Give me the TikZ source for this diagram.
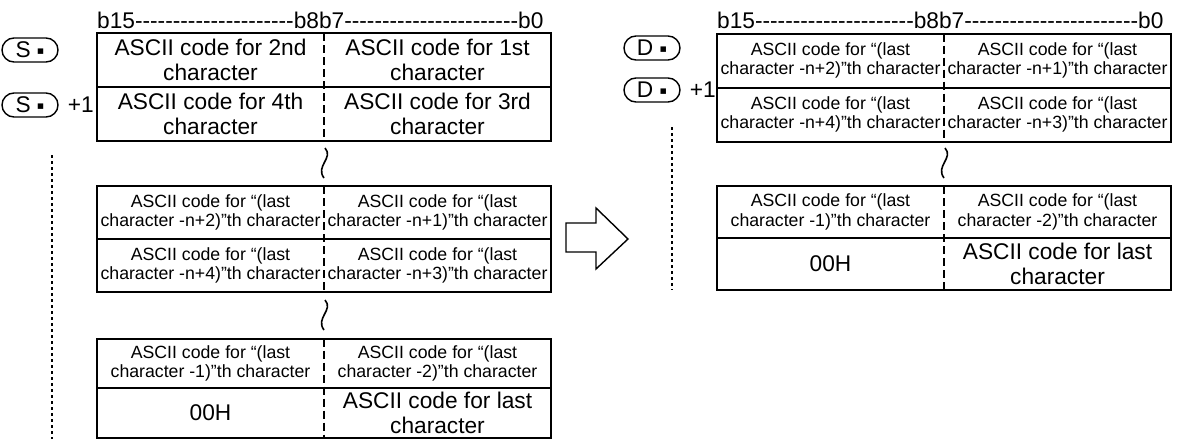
\documentclass[tikz,border=0pt]{standalone}
\usepackage{fontspec}
\setmainfont{Liberation Sans}[Ligatures=TeXOff]
\newfontfamily\symfont{DejaVu Sans}
\usetikzlibrary{positioning,shapes.misc}
\newcommand{\dotmark}{\raisebox{0.25ex}{\symfont\fontsize{11}{11}\selectfont ▪}}

\begin{document}
\begin{tikzpicture}[x=1pt,y=-1pt,
cellbig/.style={inner sep=0pt,outer sep=0pt,align=center,minimum width=227pt,font=\fontsize{22.7}{25}\selectfont},
cellsmall/.style={inner sep=0pt,outer sep=0pt,align=center,minimum width=227pt,font=\fontsize{17.7}{19.5}\selectfont},
rim/.style={line width=2pt},
divline/.style={line width=1.6pt,dash pattern=on 8pt off 4pt},
dotline/.style={line width=2pt,dash pattern=on 3pt off 3pt},
squig/.style={line width=1.6pt},
regoval/.style={draw,rounded rectangle,line width=1.4pt,minimum width=56pt,minimum height=24pt,inner sep=0pt,font=\fontsize{22.7}{25}\selectfont},
lbl/.style={inner sep=0pt,font=\fontsize{22.7}{25}\selectfont}]
\useasboundingbox (0,0) rectangle (1181,439);
% source side
\node[lbl,anchor=base west] (lhead) at (97,28) {b15---------------------b8b7-----------------------b0};
\node[cellbig,minimum height=54pt] (a1) at (210.5,60) {ASCII code for 2nd\\character};
\node[cellbig,minimum height=54pt,right=0pt of a1] (a2) {ASCII code for 1st\\character};
\node[cellbig,minimum height=54pt,below=0pt of a1] (a3) {ASCII code for 4th\\character};
\node[cellbig,minimum height=54pt,right=0pt of a3] (a4) {ASCII code for 3rd\\character};
\node[cellsmall,minimum height=53pt] (b1) at (210.5,212.5) {ASCII code for “(last\\character -n+2)”th character};
\node[cellsmall,minimum height=53pt,right=0pt of b1] (b2) {ASCII code for “(last\\character -n+1)”th character};
\node[cellsmall,minimum height=53pt,below=0pt of b1] (b3) {ASCII code for “(last\\character -n+4)”th character};
\node[cellsmall,minimum height=53pt,right=0pt of b3] (b4) {ASCII code for “(last\\character -n+3)”th character};
\node[cellsmall,minimum height=49.5pt] (c1) at (210.5,363.25) {ASCII code for “(last\\character -1)”th character};
\node[cellsmall,minimum height=49.5pt,right=0pt of c1] (c2) {ASCII code for “(last\\character -2)”th character};
\node[cellbig,minimum height=49.5pt,below=0pt of c1] (c3) {00H};
\node[cellbig,minimum height=49.5pt,right=0pt of c3] (c4) {ASCII code for last\\character};
\foreach \blk in {a,b,c}{
  \draw[rim] (\blk1.north west) rectangle (\blk4.south east);
  \draw[rim] (\blk3.north west) -- (\blk4.north east);
  \draw[divline] (\blk1.north east) -- (\blk3.south east);
}
\draw[squig] (325,148) .. controls (334,158) and (315,166) .. (324,178);
\draw[squig] (325,300) .. controls (334,310) and (315,318) .. (324,330);
\node[regoval] (s1) at (30,50) {S \dotmark};
\node[regoval] (s2) at (30,105) {S \dotmark};
\node[lbl,right=9pt of s2] (s2plus) {+1};
\coordinate (sv1) at (52,155);
\coordinate (sv2) at (52,439);
\draw[dotline] (sv1) -- (sv2);
% conversion arrow
\draw[line width=1.4pt] (566,223) -- (596,223) -- (596,208) -- (628,239) -- (596,269) -- (596,252) -- (566,252) -- cycle;
% destination side
\node[lbl,anchor=base west] (rhead) at (717,28) {b15---------------------b8b7-----------------------b0};
\node[cellsmall,minimum height=54pt] (d1) at (830.5,60.5) {ASCII code for “(last\\character -n+2)”th character};
\node[cellsmall,minimum height=54pt,right=0pt of d1] (d2) {ASCII code for “(last\\character -n+1)”th character};
\node[cellsmall,minimum height=54pt,below=0pt of d1] (d3) {ASCII code for “(last\\character -n+4)”th character};
\node[cellsmall,minimum height=54pt,right=0pt of d3] (d4) {ASCII code for “(last\\character -n+3)”th character};
\node[cellsmall,minimum height=52pt] (e1) at (830.5,212) {ASCII code for “(last\\character -1)”th character};
\node[cellsmall,minimum height=52pt,right=0pt of e1] (e2) {ASCII code for “(last\\character -2)”th character};
\node[cellbig,minimum height=52pt,below=0pt of e1] (e3) {00H};
\node[cellbig,minimum height=52pt,right=0pt of e3] (e4) {ASCII code for last\\character};
\foreach \blk in {d,e}{
  \draw[rim] (\blk1.north west) rectangle (\blk4.south east);
  \draw[rim] (\blk3.north west) -- (\blk4.north east);
  \draw[divline] (\blk1.north east) -- (\blk3.south east);
}
\draw[squig] (945,148) .. controls (954,158) and (935,166) .. (944,178);
\node[regoval] (t1) at (652,48) {D \dotmark};
\node[regoval] (t2) at (652,90) {D \dotmark};
\node[lbl,right=9pt of t2] (t2plus) {+1};
\coordinate (tv1) at (672,127);
\coordinate (tv2) at (672,290);
\draw[dotline] (tv1) -- (tv2);
\end{tikzpicture}
\end{document}
